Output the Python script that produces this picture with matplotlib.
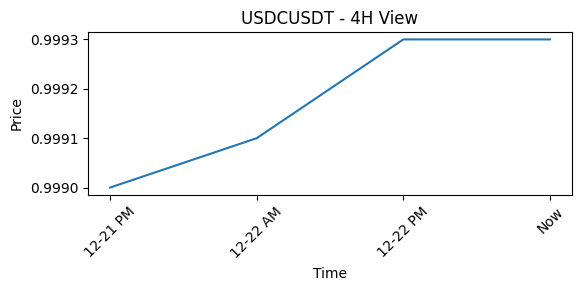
import matplotlib
matplotlib.use("Agg")
import matplotlib.pyplot as plt
from matplotlib.ticker import FormatStrFormatter, MultipleLocator

labels = ["12-21 PM", "12-22 AM", "12-22 PM", "Now"]
prices = [0.9990, 0.9991, 0.9993, 0.9993]

fig = plt.figure(figsize=(5.81, 2.90), dpi=100)
ax = fig.add_axes([0.1515, 0.3276, 0.833, 0.562])
x = list(range(len(labels)))
ax.plot(x, prices, color="#1f77b4", linewidth=1.5)
ax.set_xticks(x)
ax.set_xticklabels(labels, rotation=45)
ax.yaxis.set_major_locator(MultipleLocator(0.0001))
ax.yaxis.set_major_formatter(FormatStrFormatter("%.4f"))
ax.set_title("USDCUSDT - 4H View")
ax.set_xlabel("Time")
ax.set_ylabel("Price")

fig.savefig("out.png", dpi=100)
